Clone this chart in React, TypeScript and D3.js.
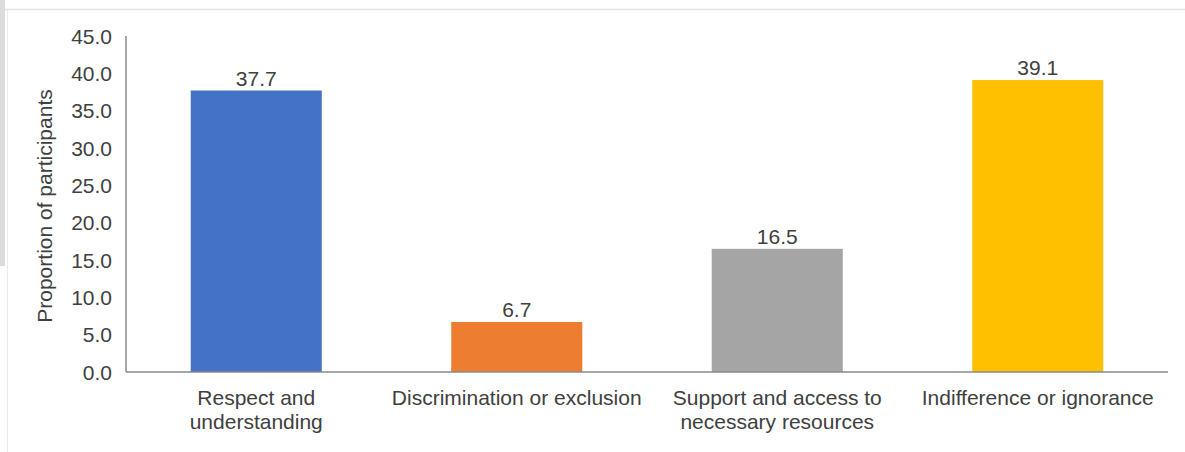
import React from "react";
import * as d3 from "d3";

const categories = [
  "Respect and understanding",
  "Discrimination or exclusion",
  "Support and access to necessary resources",
  "Indifference or ignorance",
];
const categoryLines = [
  ["Respect and", "understanding"],
  ["Discrimination or exclusion"],
  ["Support and access to", "necessary resources"],
  ["Indifference or ignorance"],
];
const values = [37.7, 6.7, 16.5, 39.1];
const barColors = ["#4472C4", "#ED7D31", "#A5A5A5", "#FFC000"];
const yTicks = [0, 5, 10, 15, 20, 25, 30, 35, 40, 45];
const yTitle = "Proportion of participants";

const W = 1185;
const H = 452;
const left = 126;
const right = 1168;
const top = 36;
const bottom = 372;
const FONT = "'Liberation Sans', Arial, sans-serif";
const TEXT = "#404040";
const AXIS = "#8a8a8a";

export default function App() {
  const x = d3
    .scaleBand<string>()
    .domain(categories)
    .range([left, right])
    .paddingInner(0.497)
    .paddingOuter(0.2485);
  const y = d3.scaleLinear().domain([0, 45]).range([bottom, top]);

  return (
    <svg
      width={W}
      height={H}
      style={{ position: "absolute", left: 0, top: 0, background: "#fff" }}
      fontFamily={FONT}
    >
      <rect x={0} y={0} width={W} height={H} fill="#fff" />
      {/* frame artifacts */}
      <rect x={0} y={0} width={5} height={266} fill="#dcdcdc" />
      <line x1={5} x2={W} y1={9.5} y2={9.5} stroke="#e4e4e4" strokeWidth={1.5} />
      <line x1={7.5} x2={7.5} y1={10} y2={H} stroke="#ececec" strokeWidth={1} />

      {/* bars */}
      {categories.map((c, i) => (
        <rect
          key={c}
          x={x(c)}
          y={y(values[i])}
          width={x.bandwidth()}
          height={y(0) - y(values[i])}
          fill={barColors[i]}
        />
      ))}

      {/* value labels */}
      {categories.map((c, i) => (
        <text
          key={"v" + c}
          x={(x(c) as number) + x.bandwidth() / 2}
          y={y(values[i]) - 5}
          textAnchor="middle"
          fontSize={21}
          fill={TEXT}
        >
          {values[i].toFixed(1)}
        </text>
      ))}

      {/* axes */}
      <line x1={left} x2={left} y1={y(45)} y2={y(0)} stroke={AXIS} strokeWidth={1.5} />
      <line x1={left} x2={right} y1={y(0)} y2={y(0)} stroke={AXIS} strokeWidth={1.5} />

      {/* y tick labels */}
      {yTicks.map((t) => (
        <text
          key={"t" + t}
          x={112}
          y={y(t)}
          dy="0.36em"
          textAnchor="end"
          fontSize={21}
          fill={TEXT}
        >
          {t.toFixed(1)}
        </text>
      ))}

      {/* x labels */}
      {categories.map((c, i) => (
        <text
          key={"x" + c}
          x={(x(c) as number) + x.bandwidth() / 2}
          y={405}
          textAnchor="middle"
          fontSize={21}
          fill={TEXT}
        >
          {categoryLines[i].map((l, j) => (
            <tspan key={j} x={(x(c) as number) + x.bandwidth() / 2} dy={j === 0 ? 0 : 24}>
              {l}
            </tspan>
          ))}
        </text>
      ))}

      {/* y title */}
      <text
        transform={`translate(52, ${(top + bottom) / 2 + 2}) rotate(-90)`}
        textAnchor="middle"
        fontSize={21}
        fill={TEXT}
      >
        {yTitle}
      </text>
    </svg>
  );
}
